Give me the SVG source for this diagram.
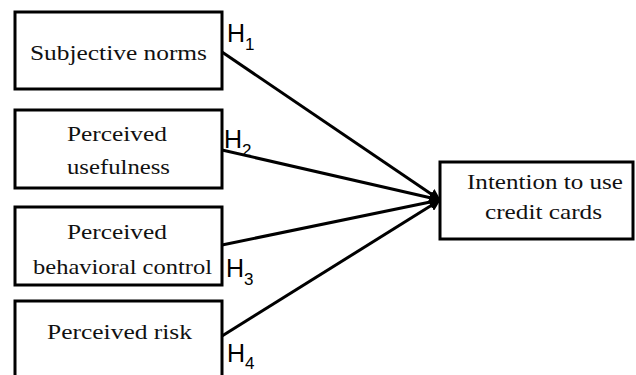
<svg xmlns="http://www.w3.org/2000/svg" width="636" height="375" viewBox="0 0 636 375">
<defs>
<style>
.box{fill:#fff;stroke:#000;stroke-width:3}
.t{font-family:"Liberation Serif","Times New Roman",Tinos,serif;font-size:22px;fill:#111}
.h{font-family:"Liberation Sans",Arial,sans-serif;font-size:25px;fill:#000}
.s{font-size:17px}
.c{stroke:#000;stroke-width:3;fill:none;marker-end:url(#ah)}
</style>
<marker id="ah" viewBox="0 0 10 10" refX="9" refY="5" markerWidth="4" markerHeight="4" orient="auto" markerUnits="strokeWidth">
<path d="M0,0 L10,5 L0,10 z" fill="#000"/>
</marker>
</defs>
<rect width="636" height="375" fill="#fff"/>
<g id="connectors">
<line class="c" x1="222" y1="52" x2="440" y2="200"/>
<line class="c" x1="222" y1="150" x2="440" y2="200"/>
<line class="c" x1="222" y1="245" x2="440" y2="200"/>
<line class="c" x1="222" y1="336" x2="440" y2="200"/>
</g>
<g id="n1">
<rect class="box" x="15" y="12" width="207" height="77"/>
<text class="t" x="30" y="60" textLength="177" lengthAdjust="spacingAndGlyphs">Subjective norms</text>
</g>
<g id="n2">
<rect class="box" x="15" y="110" width="207" height="78"/>
<text class="t" x="67" y="141" textLength="100" lengthAdjust="spacingAndGlyphs">Perceived</text>
<text class="t" x="67" y="174" textLength="103" lengthAdjust="spacingAndGlyphs">usefulness</text>
</g>
<g id="n3">
<rect class="box" x="15" y="207" width="207" height="78"/>
<text class="t" x="67" y="239" textLength="100" lengthAdjust="spacingAndGlyphs">Perceived</text>
<text class="t" x="33" y="274" textLength="179" lengthAdjust="spacingAndGlyphs">behavioral control</text>
</g>
<g id="n4">
<rect class="box" x="15" y="301" width="207" height="80"/>
<text class="t" x="47" y="339" textLength="145" lengthAdjust="spacingAndGlyphs">Perceived risk</text>
</g>
<g id="n5">
<rect class="box" x="440" y="162" width="193" height="77"/>
<text class="t" x="467" y="189" textLength="156" lengthAdjust="spacingAndGlyphs">Intention to use</text>
<text class="t" x="485" y="219" textLength="117" lengthAdjust="spacingAndGlyphs">credit cards</text>
</g>
<g id="labels">
<text class="h" x="227" y="42">H<tspan class="s" dy="8">1</tspan></text>
<text class="h" x="224" y="148">H<tspan class="s" dy="8">2</tspan></text>
<text class="h" x="226" y="277">H<tspan class="s" dy="8">3</tspan></text>
<text class="h" x="227" y="362">H<tspan class="s" dy="7">4</tspan></text>
</g>
</svg>
